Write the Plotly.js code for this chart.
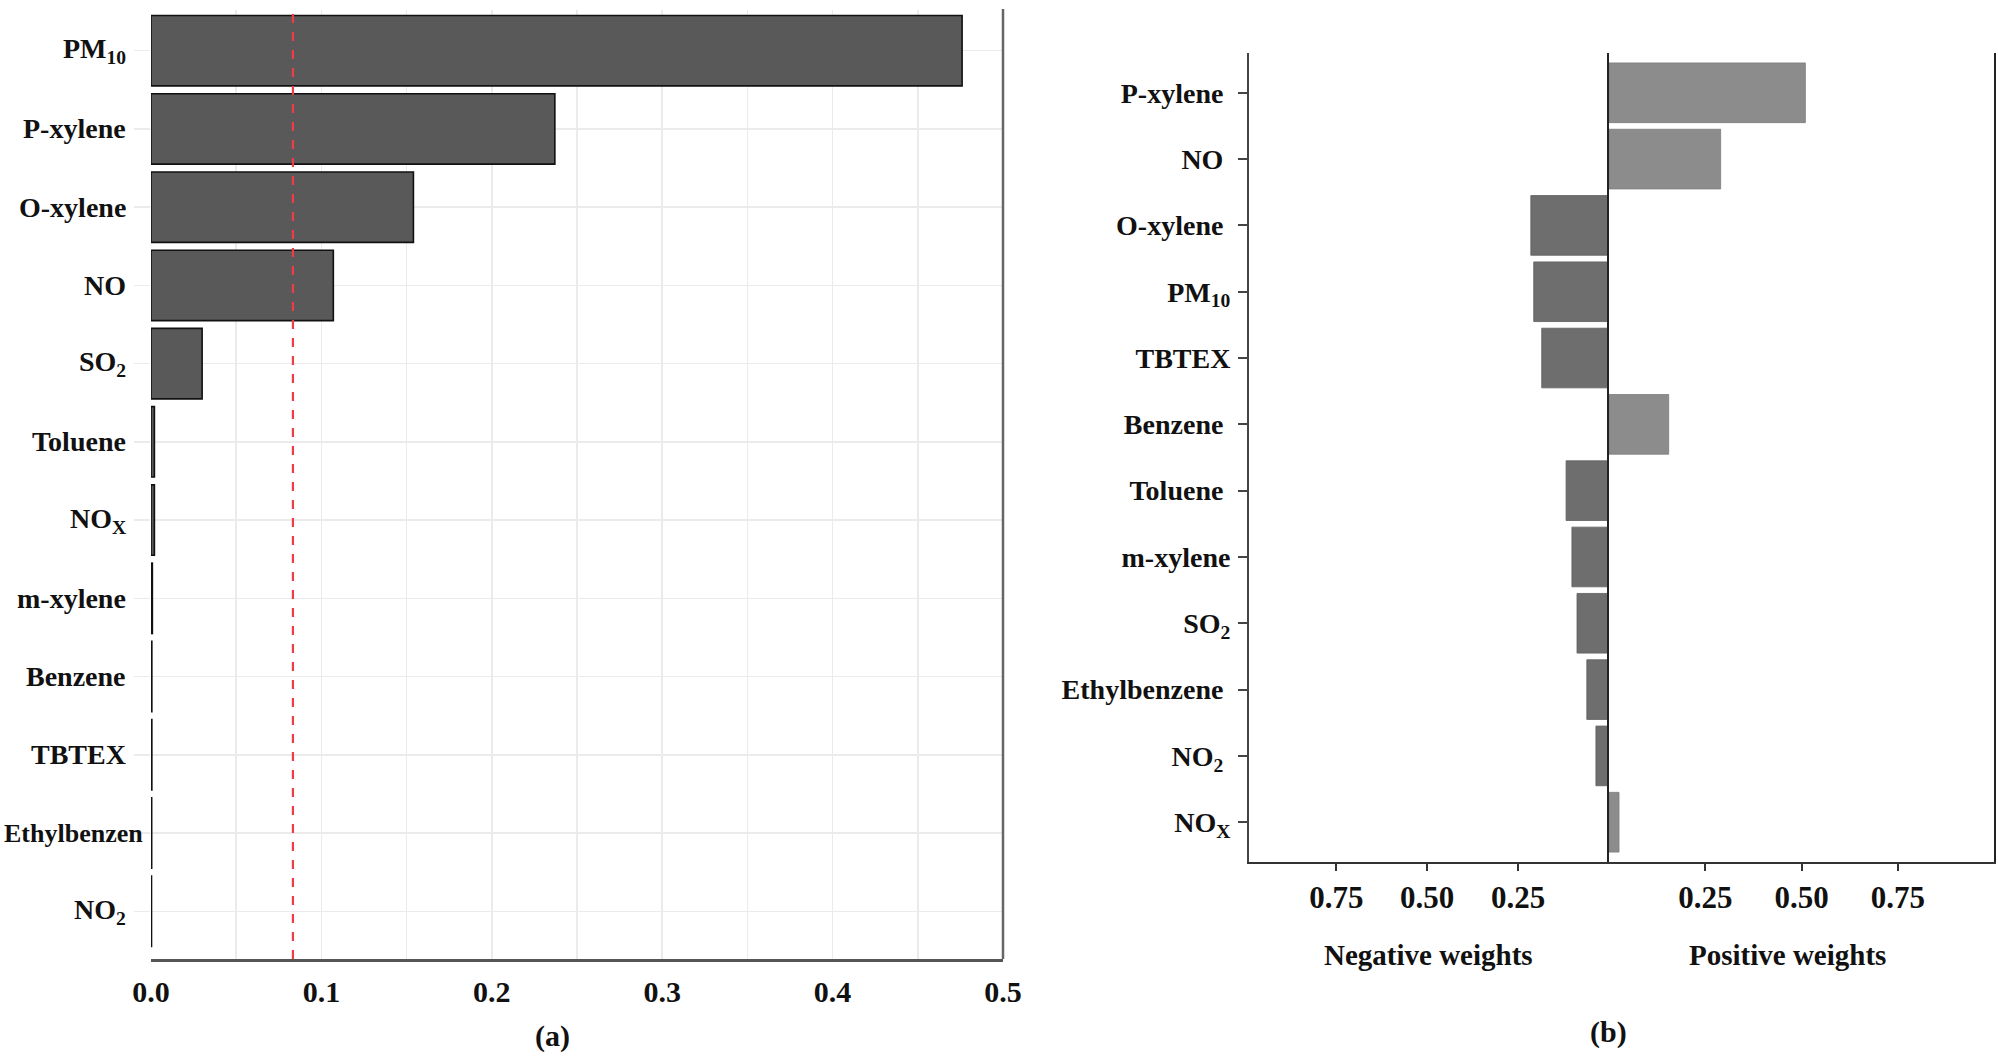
<!DOCTYPE html>
<html><head><meta charset="utf-8">
<script src="https://cdn.plot.ly/plotly-3.0.1.min.js"></script>
<style>html,body{margin:0;padding:0;background:#fff;} #chart{width:1998px;height:1056px;}</style>
</head><body><div id="chart"></div>
<script>
// ---- Panel (a): variable importance ----
const leftCategories = ['PM10','P-xylene','O-xylene','NO','SO2','Toluene','NOX','m-xylene','Benzene','TBTEX','Ethylbenzen','NO2'];
const leftTickLabels = ['PM<sub>10</sub>','P-xylene','O-xylene','NO','SO<sub>2</sub>','Toluene','NO<sub>X</sub>','m-xylene','Benzene','TBTEX','Ethylbenzen','NO<sub>2</sub>'];
const leftImportance = [0.476, 0.237, 0.154, 0.107, 0.030, 0.002, 0.002, 0.0008, 0.0005, 0.0005, 0.0004, 0.0003];
const threshold = 0.0833;
const leftXTicks = [0, 0.1, 0.2, 0.3, 0.4, 0.5];
const leftXTickLabels = ['0.0','0.1','0.2','0.3','0.4','0.5'];

// ---- Panel (b): weights ----
const rightCategories = ['P-xylene','NO','O-xylene','PM10','TBTEX','Benzene','Toluene','m-xylene','SO2','Ethylbenzene','NO2','NOX'];
const rightTickLabels = ['P-xylene ','NO ','O-xylene ','PM<sub>10</sub>','TBTEX','Benzene ','Toluene ','m-xylene','SO<sub>2</sub>','Ethylbenzene ','NO<sub>2</sub> ','NO<sub>X</sub>'];
const rightWeights = [0.510, 0.290, -0.215, -0.207, -0.185, 0.155, -0.118, -0.102, -0.088, -0.061, -0.036, 0.026];
const negTickVals = [-0.75, -0.5, -0.25];
const negTickLabels = ['0.75','0.50','0.25'];
const posTickVals = [0.25, 0.5, 0.75];
const posTickLabels = ['0.25','0.50','0.75'];

const W = 1998, H = 1056;
const px = v => v / W, py = v => 1 - v / H;
const FONT = '"Liberation Serif", "Times New Roman", serif';
const ink = '#111111';

const negCats = [], negVals = [], posCats = [], posVals = [];
rightCategories.forEach((c, i) => {
  if (rightWeights[i] < 0) { negCats.push(c); negVals.push(rightWeights[i]); }
  else { posCats.push(c); posVals.push(rightWeights[i]); }
});

const traces = [
  {type:'bar', orientation:'h', x:leftImportance, y:leftCategories, xaxis:'x', yaxis:'y',
   width:0.9, marker:{color:'#595959', line:{color:'#111111', width:1.6}}, hoverinfo:'x+y'},
  {type:'bar', orientation:'h', x:negVals, y:negCats, xaxis:'x2', yaxis:'y2',
   width:0.9, marker:{color:'#6e6e6e', line:{color:'#5e5e5e', width:0.8}}},
  {type:'bar', orientation:'h', x:posVals, y:posCats, xaxis:'x3', yaxis:'y3',
   width:0.9, marker:{color:'#8c8c8c', line:{color:'#7c7c7c', width:0.8}}}
];

const annotations = leftCategories.map((c, i) => {
  const longLabel = (c === 'Ethylbenzen');
  return {
    x: longLabel ? px(2) : px(128), xref:'paper', xanchor: longLabel ? 'left' : 'right',
    y: c, yref:'y', yanchor:'middle', showarrow:false, text: leftTickLabels[i],
    font:{family:FONT, size: longLabel ? 26 : 28, color:ink, weight:'bold'}
  };
});
annotations.push(
  {x:px(1428), y:py(955), xref:'paper', yref:'paper', xanchor:'center', yanchor:'middle', showarrow:false,
   text:'Negative weights', font:{family:FONT, size:29, color:ink, weight:'bold'}},
  {x:px(1787), y:py(955), xref:'paper', yref:'paper', xanchor:'center', yanchor:'middle', showarrow:false,
   text:'Positive weights', font:{family:FONT, size:29, color:ink, weight:'bold'}},
  {x:px(552), y:py(1036), xref:'paper', yref:'paper', xanchor:'center', yanchor:'middle', showarrow:false,
   text:'(a)', font:{family:FONT, size:30, color:ink, weight:'bold'}},
  {x:px(1608), y:py(1032), xref:'paper', yref:'paper', xanchor:'center', yanchor:'middle', showarrow:false,
   text:'(b)', font:{family:FONT, size:30, color:ink, weight:'bold'}}
);

const gridC = '#ebebeb';
const layout = {
  width: W, height: H,
  margin:{l:0, r:0, t:0, b:0},
  paper_bgcolor:'#ffffff', plot_bgcolor:'rgba(0,0,0,0)',
  showlegend:false, bargap:0.1,
  font:{family:FONT, color:ink},
  xaxis:{domain:[px(151), px(1003)], anchor:'y', range:[0, 0.5],
    tickmode:'array', tickvals:leftXTicks, ticktext:leftXTickLabels,
    ticks:'', showgrid:true, gridcolor:gridC, gridwidth:1.5, zeroline:false,
    minor:{tickmode:'linear', tick0:0, dtick:0.05, showgrid:true, gridcolor:gridC, gridwidth:1.5, ticks:''},
    showline:true, linecolor:'#555555', linewidth:2.5, ticklabelstandoff:4,
    tickfont:{family:FONT, size:30, color:ink, weight:'bold'}},
  yaxis:{domain:[py(959), py(10)], anchor:'x', type:'category',
    categoryorder:'array', categoryarray:leftCategories, range:[11.61, -0.52],
    showticklabels:false, ticks:'outside', ticklen:16, tickwidth:1.5, tickcolor:gridC,
    showgrid:true, gridcolor:gridC, gridwidth:1.5, zeroline:false, showline:false},
  xaxis2:{domain:[px(1249), px(1609)], anchor:'y2', range:[-0.99, 0],
    tickmode:'array', tickvals:negTickVals, ticktext:negTickLabels,
    ticks:'outside', ticklen:7, tickwidth:2, tickcolor:'#333333',
    showline:true, linecolor:'#333333', linewidth:2, showgrid:false, zeroline:false,
    ticklabelstandoff:0,
    tickfont:{family:FONT, size:31, color:ink, weight:'bold'}},
  yaxis2:{domain:[py(862), py(53)], anchor:'x2', type:'category',
    categoryorder:'array', categoryarray:rightCategories, range:[11.6, -0.6],
    tickmode:'array', tickvals:rightCategories, ticktext:rightTickLabels,
    ticks:'outside', ticklen:9, tickwidth:2, tickcolor:'#444444',
    showline:true, linecolor:'#444444', linewidth:2, showgrid:false, zeroline:false,
    ticklabelstandoff:2,
    tickfont:{family:FONT, size:28, color:ink, weight:'bold'}},
  xaxis3:{domain:[px(1609), px(1994)], anchor:'y3', range:[0, 1.0],
    tickmode:'array', tickvals:posTickVals, ticktext:posTickLabels,
    ticks:'outside', ticklen:7, tickwidth:2, tickcolor:'#333333',
    showline:true, linecolor:'#333333', linewidth:2, showgrid:false, zeroline:false,
    ticklabelstandoff:0,
    tickfont:{family:FONT, size:31, color:ink, weight:'bold'}},
  yaxis3:{domain:[py(862), py(53)], anchor:'x3', type:'category',
    categoryorder:'array', categoryarray:rightCategories, range:[11.6, -0.6],
    showticklabels:false, ticks:'', showline:true, mirror:true, linecolor:'#222222', linewidth:2,
    showgrid:false, zeroline:false},
  shapes:[
    {type:'line', xref:'x', yref:'y domain', x0:threshold, x1:threshold, y0:0, y1:1,
     line:{color:'#f03c46', width:2.2, dash:'dash'}},
    {type:'line', xref:'x domain', yref:'y domain', x0:1, x1:1, y0:0, y1:1.001,
     line:{color:'#666666', width:2.5}}
  ],
  annotations: annotations
};

Plotly.newPlot('chart', traces, layout, {displayModeBar:false, staticPlot:true});
</script>
</body></html>
